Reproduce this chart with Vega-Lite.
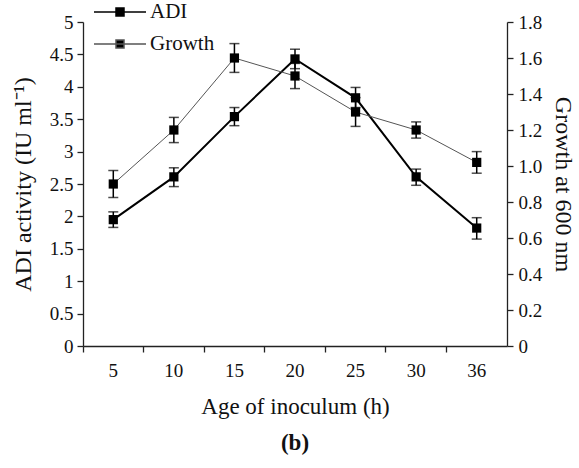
{
  "$schema": "https://vega.github.io/schema/vega-lite/v6.json",
  "width": 424,
  "height": 324,
  "autosize": "none",
  "padding": {"left": 83, "top": 22, "right": 72, "bottom": 122},
  "background": "white",
  "config": {
    "font": "Liberation Serif",
    "view": {"stroke": null},
    "axis": {
      "labelFont": "Liberation Serif", "titleFont": "Liberation Serif",
      "labelFontSize": 19, "titleFontSize": 24, "titleFontWeight": "normal",
      "labelColor": "#111", "titleColor": "#111",
      "domainColor": "#222", "tickColor": "#222", "domainWidth": 1.3, "tickWidth": 1.3,
      "tickSize": 6, "grid": false
    }
  },
  "title": {"text": "(b)", "orient": "bottom", "font": "Liberation Serif", "fontSize": 23, "fontWeight": "bold", "color": "#111", "offset": 14},
  "data": {"values": [
    {"age": 5, "adi": 1.95, "adi_lo": 1.83, "adi_hi": 2.07, "growth": 0.90, "g_lo": 0.825, "g_hi": 0.975},
    {"age": 10, "adi": 2.61, "adi_lo": 2.46, "adi_hi": 2.75, "growth": 1.20, "g_lo": 1.13, "g_hi": 1.27},
    {"age": 15, "adi": 3.54, "adi_lo": 3.40, "adi_hi": 3.68, "growth": 1.60, "g_lo": 1.52, "g_hi": 1.68},
    {"age": 20, "adi": 4.43, "adi_lo": 4.28, "adi_hi": 4.58, "growth": 1.50, "g_lo": 1.43, "g_hi": 1.57},
    {"age": 25, "adi": 3.83, "adi_lo": 3.68, "adi_hi": 3.99, "growth": 1.30, "g_lo": 1.22, "g_hi": 1.38},
    {"age": 30, "adi": 2.61, "adi_lo": 2.48, "adi_hi": 2.73, "growth": 1.20, "g_lo": 1.155, "g_hi": 1.245},
    {"age": 36, "adi": 1.82, "adi_lo": 1.65, "adi_hi": 1.98, "growth": 1.02, "g_lo": 0.96, "g_hi": 1.08}
  ]},
  "encoding": {
    "x": {
      "field": "age", "type": "ordinal", "bandPosition": 0.5,
      "scale": {"type": "band", "paddingInner": 0, "paddingOuter": 0},
      "axis": {"title": "Age of inoculum (h)", "titleFontSize": 23, "labelAngle": 0, "bandPosition": 0, "labelPadding": 9, "titlePadding": 15, "domainWidth": 1.5}
    }
  },
  "layer": [
    {
      "layer": [
        {
          "mark": {"type": "line", "strokeWidth": 2},
          "encoding": {
            "y": {"field": "adi", "type": "quantitative", "scale": {"domain": [0, 5]},
              "axis": {"title": "ADI activity (IU ml⁻¹)", "values": [0, 0.5, 1, 1.5, 2, 2.5, 3, 3.5, 4, 4.5, 5], "format": "~g", "labelPadding": 4, "titlePadding": 14}},
            "color": {"datum": "ADI", "type": "nominal",
              "scale": {"domain": ["ADI", "Growth"], "range": ["#000000", "#555555"]},
              "legend": {"title": null, "orient": "none", "legendX": 26, "legendY": -21,
                "symbolType": "M-2.6,0H2.6M-0.4,-0.4H0.4V0.4H-0.4Z", "symbolSize": 400,
                "symbolFillColor": "#000000", "symbolStrokeWidth": 1.5,
                "labelFont": "Liberation Serif", "labelFontSize": 21, "labelColor": "#111",
                "labelOffset": 19, "rowPadding": 11}}
          }
        },
        {"mark": {"type": "rule", "color": "#000", "strokeWidth": 1.5},
          "encoding": {"y": {"field": "adi_lo", "type": "quantitative", "scale": {"domain": [0, 5]},
              "axis": {"title": "ADI activity (IU ml⁻¹)", "values": [0, 0.5, 1, 1.5, 2, 2.5, 3, 3.5, 4, 4.5, 5], "format": "~g", "labelPadding": 4, "titlePadding": 14}}, "y2": {"field": "adi_hi"}}},
        {"mark": {"type": "tick", "color": "#000", "size": 10, "thickness": 1.5},
          "encoding": {"y": {"field": "adi_lo", "type": "quantitative", "scale": {"domain": [0, 5]},
              "axis": {"title": "ADI activity (IU ml⁻¹)", "values": [0, 0.5, 1, 1.5, 2, 2.5, 3, 3.5, 4, 4.5, 5], "format": "~g", "labelPadding": 4, "titlePadding": 14}}}},
        {"mark": {"type": "tick", "color": "#000", "size": 10, "thickness": 1.5},
          "encoding": {"y": {"field": "adi_hi", "type": "quantitative", "scale": {"domain": [0, 5]},
              "axis": {"title": "ADI activity (IU ml⁻¹)", "values": [0, 0.5, 1, 1.5, 2, 2.5, 3, 3.5, 4, 4.5, 5], "format": "~g", "labelPadding": 4, "titlePadding": 14}}}},
        {"mark": {"type": "square", "color": "#000", "opacity": 1, "filled": true, "size": 85},
          "encoding": {"y": {"field": "adi", "type": "quantitative", "scale": {"domain": [0, 5]},
              "axis": {"title": "ADI activity (IU ml⁻¹)", "values": [0, 0.5, 1, 1.5, 2, 2.5, 3, 3.5, 4, 4.5, 5], "format": "~g", "labelPadding": 4, "titlePadding": 14}}}}
      ]
    },
    {
      "layer": [
        {
          "mark": {"type": "line", "strokeWidth": 1},
          "encoding": {
            "y": {"field": "growth", "type": "quantitative", "scale": {"domain": [0, 1.8]},
              "axis": {"orient": "right", "title": "Growth at 600 nm", "values": [0, 0.2, 0.4, 0.6, 0.8, 1.0, 1.2, 1.4, 1.6, 1.8],
                "labelExpr": "datum.value == 0 ? '0' : format(datum.value, '.1f')", "labelPadding": 5, "titlePadding": 9}},
            "color": {"datum": "Growth", "type": "nominal"}
          }
        },
        {"mark": {"type": "rule", "color": "#000", "strokeWidth": 1.5},
          "encoding": {"y": {"field": "g_lo", "type": "quantitative", "scale": {"domain": [0, 1.8]},
              "axis": {"orient": "right", "title": "Growth at 600 nm", "values": [0, 0.2, 0.4, 0.6, 0.8, 1.0, 1.2, 1.4, 1.6, 1.8],
                "labelExpr": "datum.value == 0 ? '0' : format(datum.value, '.1f')", "labelPadding": 5, "titlePadding": 9}}, "y2": {"field": "g_hi"}}},
        {"mark": {"type": "tick", "color": "#000", "size": 10, "thickness": 1.5},
          "encoding": {"y": {"field": "g_lo", "type": "quantitative", "scale": {"domain": [0, 1.8]},
              "axis": {"orient": "right", "title": "Growth at 600 nm", "values": [0, 0.2, 0.4, 0.6, 0.8, 1.0, 1.2, 1.4, 1.6, 1.8],
                "labelExpr": "datum.value == 0 ? '0' : format(datum.value, '.1f')", "labelPadding": 5, "titlePadding": 9}}}},
        {"mark": {"type": "tick", "color": "#000", "size": 10, "thickness": 1.5},
          "encoding": {"y": {"field": "g_hi", "type": "quantitative", "scale": {"domain": [0, 1.8]},
              "axis": {"orient": "right", "title": "Growth at 600 nm", "values": [0, 0.2, 0.4, 0.6, 0.8, 1.0, 1.2, 1.4, 1.6, 1.8],
                "labelExpr": "datum.value == 0 ? '0' : format(datum.value, '.1f')", "labelPadding": 5, "titlePadding": 9}}}},
        {"mark": {"type": "square", "color": "#000", "opacity": 1, "filled": true, "size": 85},
          "encoding": {"y": {"field": "growth", "type": "quantitative", "scale": {"domain": [0, 1.8]},
              "axis": {"orient": "right", "title": "Growth at 600 nm", "values": [0, 0.2, 0.4, 0.6, 0.8, 1.0, 1.2, 1.4, 1.6, 1.8],
                "labelExpr": "datum.value == 0 ? '0' : format(datum.value, '.1f')", "labelPadding": 5, "titlePadding": 9}}}}
      ]
    }
  ],
  "resolve": {"scale": {"y": "independent"}}
}
